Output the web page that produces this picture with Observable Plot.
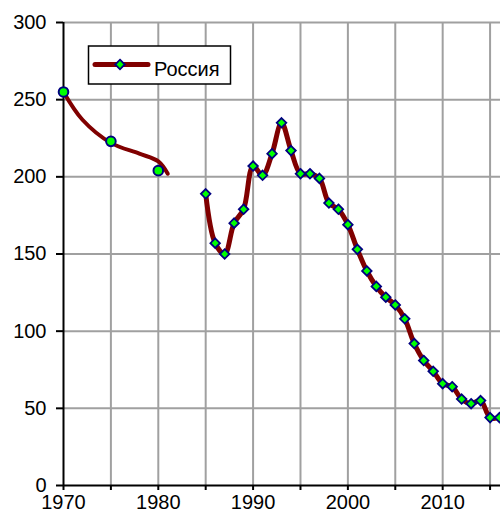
<!DOCTYPE html>
<html>
<head>
<meta charset="utf-8">
<script src="https://cdn.jsdelivr.net/npm/d3@7"></script>
<script src="https://cdn.jsdelivr.net/npm/@observablehq/plot@0.6"></script>
<style>
  html, body { margin: 0; padding: 0; background: #fff; }
  #chart svg { display: block; font-family: "Liberation Sans", Arial, sans-serif; }
</style>
</head>
<body>
<div id="chart"></div>
<script>
// Main series (diamonds)
const years = [1985,1986,1987,1988,1989,1990,1991,1992,1993,1994,1995,1996,1997,1998,1999,2000,2001,2002,2003,2004,2005,2006,2007,2008,2009,2010,2011,2012,2013,2014,2015,2016];
const values = [189,157,150,170,179,207,201,215,235,217,202,202,199,183,179,169,153,139,129,122,117,108,92,81,74,66,64,56,53,55,44,44];
// Early observations (circles)
const earlyYears = [1970,1975,1980];
const earlyValues = [255,223,204];
// Early smoothed trend line
const trendYears = [1970,1972,1975,1978,1980,1981];
const trendValues = [255,237,222,215,210,202];
// Ticks
const xTicks = [1970,1975,1980,1985,1990,1995,2000,2005,2010,2015];
const yTicks = [0,50,100,150,200,250,300];
const seriesName = "Россия";

const main = years.map((y, i) => ({year: y, value: values[i]}));
const early = earlyYears.map((y, i) => ({year: y, value: earlyValues[i]}));
const trend = trendYears.map((y, i) => ({year: y, value: trendValues[i]}));

const lineColor = "#800000";
const fillColor = "#00ff00";
const edgeColor = "#000080";

const chart = Plot.plot({
  width: 500,
  height: 519,
  marginLeft: 63,
  marginRight: 0,
  marginTop: 22,
  marginBottom: 34,
  style: {fontFamily: "Liberation Sans, Arial, sans-serif", fontSize: "20px", background: "#fff"},
  x: {domain: [1970, 2016.1], label: null},
  y: {domain: [0, 300], label: null},
  marks: [
    Plot.gridX(xTicks.filter(d => d > 1970), {stroke: "#a0a0a0", strokeWidth: 2, strokeOpacity: 1}),
    Plot.gridY(yTicks.filter(d => d > 0), {stroke: "#a0a0a0", strokeWidth: 2, strokeOpacity: 1}),
    Plot.axisY(yTicks, {label: null, tickSize: 7, tickPadding: 10, fontSize: 20, stroke: "#000", strokeWidth: 2, color: "#000"}),
    Plot.axisX(xTicks, {label: null, tickSize: 5, tickPadding: 4, fontSize: 20, stroke: "#000", strokeWidth: 2,
      tickFormat: d => d % 10 === 0 ? String(d) : ""}),
    Plot.ruleY([0], {stroke: "#000", strokeWidth: 2}),
    Plot.ruleX([1970], {stroke: "#000", strokeWidth: 2}),
    Plot.line(trend, {x: "year", y: "value", stroke: lineColor, strokeWidth: 4, curve: "catmull-rom"}),
    Plot.line(main, {x: "year", y: "value", stroke: lineColor, strokeWidth: 5, curve: "catmull-rom"}),
    Plot.dot(early, {x: "year", y: "value", r: 4.8, fill: fillColor, stroke: edgeColor, strokeWidth: 2}),
    Plot.dot(main, {x: "year", y: "value", symbol: "diamond2", r: 4.3, fill: fillColor, stroke: edgeColor, strokeWidth: 1.8})
  ]
});

document.getElementById("chart").appendChild(chart);

// Legend drawn inside the plot area
const svg = d3.select(chart);
const g = svg.append("g").attr("class", "legend");
g.append("rect").attr("x", 88.5).attr("y", 46).attr("width", 142).attr("height", 38)
  .attr("fill", "#fff").attr("stroke", "#000").attr("stroke-width", 1.5);
g.append("line").attr("x1", 95).attr("x2", 148).attr("y1", 64.5).attr("y2", 64.5)
  .attr("stroke", lineColor).attr("stroke-width", 5).attr("stroke-linecap", "round");
g.append("path").attr("d", d3.symbol(d3.symbolDiamond2, 4.3 * 4.3 * Math.PI)())
  .attr("transform", "translate(120,64.5)")
  .attr("fill", fillColor).attr("stroke", edgeColor).attr("stroke-width", 1.8);
g.append("text").attr("x", 154).attr("y", 75.5).text(seriesName)
  .attr("text-anchor", "start")
  .attr("font-size", 20).attr("fill", "#000").attr("font-family", "Liberation Sans, Arial, sans-serif");
</script>
</body>
</html>
